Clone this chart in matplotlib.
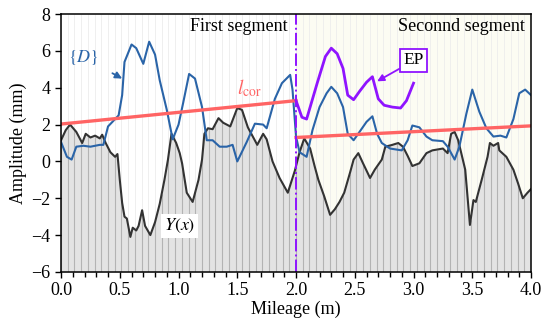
import matplotlib.pyplot as plt
import numpy as np

plt.rcParams['font.family'] = ['Liberation Serif', 'DejaVu Serif']
plt.rcParams['mathtext.fontset'] = 'stix'

# Y(x) profile
y_x = [0.0, 0.04, 0.077, 0.13, 0.18, 0.21, 0.25, 0.29, 0.33, 0.35, 0.38, 0.42, 0.46, 0.48,
       0.50, 0.52, 0.54, 0.56, 0.59, 0.61, 0.64, 0.66, 0.69, 0.715, 0.76, 0.80, 0.84, 0.88,
       0.91, 0.94, 0.98, 1.01, 1.03, 1.07, 1.12, 1.17, 1.20, 1.22, 1.25, 1.29, 1.34, 1.38,
       1.44, 1.50, 1.54, 1.59, 1.67, 1.72, 1.75, 1.80, 1.86, 1.93, 1.99, 2.03, 2.07, 2.12,
       2.16, 2.19, 2.24, 2.29, 2.33, 2.37, 2.41, 2.46, 2.49, 2.53, 2.57, 2.63, 2.67, 2.73,
       2.76, 2.82, 2.87, 2.91, 2.95, 2.99, 3.05, 3.11, 3.16, 3.25, 3.29, 3.32, 3.35, 3.38,
       3.44, 3.48, 3.51, 3.53, 3.58, 3.63, 3.65, 3.68, 3.72, 3.73, 3.79, 3.85, 3.89, 3.93,
       3.97, 4.00]
y_v = [1.15, 1.7, 2.0, 1.6, 1.0, 1.5, 1.3, 1.4, 1.25, 1.45, 1.0, 0.5, 0.25, 0.4,
       -1.0, -2.25, -3.0, -3.1, -4.1, -3.6, -3.75, -3.5, -2.65, -3.5, -4.0, -3.3, -2.3, -1.0,
       0.1, 1.5, 1.0, 0.45, -0.1, -1.7, -2.2, -1.0, 0.1, 1.5, 1.8, 1.75, 2.35, 2.1,
       1.9, 2.9, 2.8, 1.85, 0.9, 1.5, 1.2, 0.0, -0.9, -1.7, -0.5, 0.5, 1.25, 0.7,
       -0.3, -1.0, -1.9, -2.9, -2.6, -2.2, -1.7, -0.6, 0.1, 0.45, -0.1, -0.9, -0.45, 0.1,
       0.8, 0.9, 1.0, 0.8, 0.3, -0.25, -0.1, 0.45, 0.6, 0.7, 0.45, 1.5, 1.6, 1.15,
       -0.45, -3.45, -2.1, -2.2, -1.0, 0.25, 1.0, 0.85, 1.0, 0.6, 0.25, -0.45, -1.2, -2.0,
       -1.7, -1.5]

# {D}
d_x = [0.0, 0.05, 0.09, 0.13, 0.19, 0.25, 0.33, 0.36, 0.40, 0.49, 0.52, 0.54, 0.60, 0.64,
       0.70, 0.75, 0.80, 0.84, 0.90, 0.95, 1.00, 1.04, 1.09, 1.14, 1.20, 1.24, 1.29, 1.35,
       1.41, 1.46, 1.50, 1.58, 1.65, 1.72, 1.75, 1.82, 1.88, 1.95, 1.97, 2.00, 2.03, 2.09,
       2.14, 2.20, 2.26, 2.30, 2.35, 2.40, 2.44, 2.49, 2.54, 2.60, 2.65, 2.69, 2.73, 2.80,
       2.90, 2.95, 2.99, 3.05, 3.11, 3.16, 3.25, 3.29, 3.35, 3.39, 3.45, 3.50, 3.56, 3.62,
       3.68, 3.74, 3.79, 3.85, 3.90, 3.95, 4.00]
d_v = [1.05, 0.25, 0.1, 0.8, 0.85, 0.8, 0.9, 0.9, 1.9, 2.5, 3.6, 5.4, 6.35, 6.15,
       5.3, 6.5, 5.8, 4.4, 2.8, 1.2, 2.0, 3.2, 4.75, 4.5, 2.95, 1.15, 1.15, 0.8,
       0.8, 0.9, 0.0, 1.05, 2.05, 2.0, 1.8, 3.4, 4.25, 4.7, 3.9, 1.35, 0.5, 0.25,
       1.7, 2.95, 3.7, 4.05, 3.7, 2.95, 1.5, 1.15, 1.6, 2.15, 2.45, 1.5, 1.0, 0.7,
       0.6, 1.15, 1.95, 1.85, 1.35, 1.15, 1.1, 0.8, 0.1, 0.8, 2.6, 3.9, 2.7, 1.8,
       1.35, 1.4, 1.3, 2.3, 3.7, 3.9, 3.6]

# EP
ep_x = [2.00, 2.05, 2.09, 2.18, 2.25, 2.30, 2.35, 2.40, 2.44, 2.49, 2.54, 2.60, 2.65,
        2.70, 2.75, 2.82, 2.89, 2.94, 3.00]
ep_v = [3.3, 2.4, 2.3, 4.25, 5.7, 6.15, 5.85, 5.05, 3.6, 3.35, 3.8, 4.3, 4.6,
        3.4, 3.05, 2.95, 2.9, 3.3, 4.25]

# l_cor lines (start, end) per segment
seg1_x, seg1_y = [0.0, 2.0], [2.03, 3.3]
seg2_x, seg2_y = [2.0, 4.0], [1.3, 1.93]

fig = plt.figure(figsize=(5.5, 3.28), dpi=100)
ax = fig.add_axes([0.111, 0.171, 0.8545, 0.786])

ax.axvspan(2.0, 4.0, color='#fcfcf3', zorder=0, lw=0)

# stripes
xs = np.linspace(0, 4, 71)
ax.vlines(xs, -6, 8, color='#ededed', lw=0.6, zorder=0.5)
xd = np.linspace(0, 4, 800)
yd = np.interp(xd, y_x, y_v)
ax.fill_between(xd, -6, yd, color='#e3e3e3', lw=0, zorder=1)
ax.vlines(xs, -6, np.interp(xs, y_x, y_v), color='#b3b3b3', lw=0.8, zorder=1.2)
ax.plot(y_x, y_v, color='#333333', lw=1.5, zorder=3)

ax.plot(d_x, d_v, color='#2a64a8', lw=1.5, zorder=4)
ax.plot(seg1_x, seg1_y, color='#ff6464', lw=2.4, zorder=5)
ax.plot(seg2_x, seg2_y, color='#ff6464', lw=2.4, zorder=5)
ax.plot(ep_x, ep_v, color='#8f14ff', lw=2.0, zorder=6)
ax.axvline(2.0, color='#8f14ff', lw=1.4, ls='-.', zorder=6)

ax.text(1.93, 7.3, 'First segment', ha='right', va='center', fontsize=13)
ax.text(3.95, 7.3, 'Seconnd segment', ha='right', va='center', fontsize=13)

ax.annotate(r'$\{D\}$', xy=(0.52, 4.5), xytext=(0.19, 5.65), color='#2a64a8',
            fontsize=13, ha='center', va='center', zorder=7,
            arrowprops=dict(arrowstyle='-|>', color='#2a64a8', lw=1.3, mutation_scale=10,
                            shrinkA=9, shrinkB=0))
ax.annotate('EP', xy=(2.69, 4.35), xytext=(3.0, 5.5), fontsize=12.5, ha='center', va='center',
            zorder=7,
            bbox=dict(boxstyle='square,pad=0.2', fc='white', ec='#8f14ff', lw=1.3),
            arrowprops=dict(arrowstyle='-|>', color='#8f14ff', lw=1.3, mutation_scale=10,
                            shrinkA=0, shrinkB=0, relpos=(0, 0.1)))
ax.text(1.6, 4.0, r'$l_{\rm cor}$', color='#ff6464', fontsize=14, ha='center', va='center')
ax.text(1.01, -3.5, r'$Y(x)$', fontsize=13, ha='center', va='center', zorder=7,
        bbox=dict(boxstyle='square,pad=0.15', fc='white', ec='none'))

ax.set_xlim(0, 4)
ax.set_ylim(-6, 8)
ax.set_xticks(np.arange(0, 4.01, 0.5))
ax.set_xticks(np.arange(0, 4.01, 0.1), minor=True)
ax.set_yticks(np.arange(-6, 8.1, 2))
ax.set_xticklabels([f'{v:.1f}' for v in np.arange(0, 4.01, 0.5)])
ax.set_yticklabels([f'{v:d}'.replace('-', '\u2212') for v in range(-6, 9, 2)])
ax.tick_params(which='both', direction='out', labelsize=13, width=1)
ax.tick_params(which='major', length=4)
ax.tick_params(which='minor', length=3.5)
for s in ax.spines.values():
    s.set_linewidth(1.1)
    s.set_zorder(8)
ax.set_xlabel('Mileage (m)', fontsize=13, labelpad=1)
ax.set_ylabel('Amplitude (mm)', fontsize=13, labelpad=3)

fig.savefig('out.png', dpi=100)
